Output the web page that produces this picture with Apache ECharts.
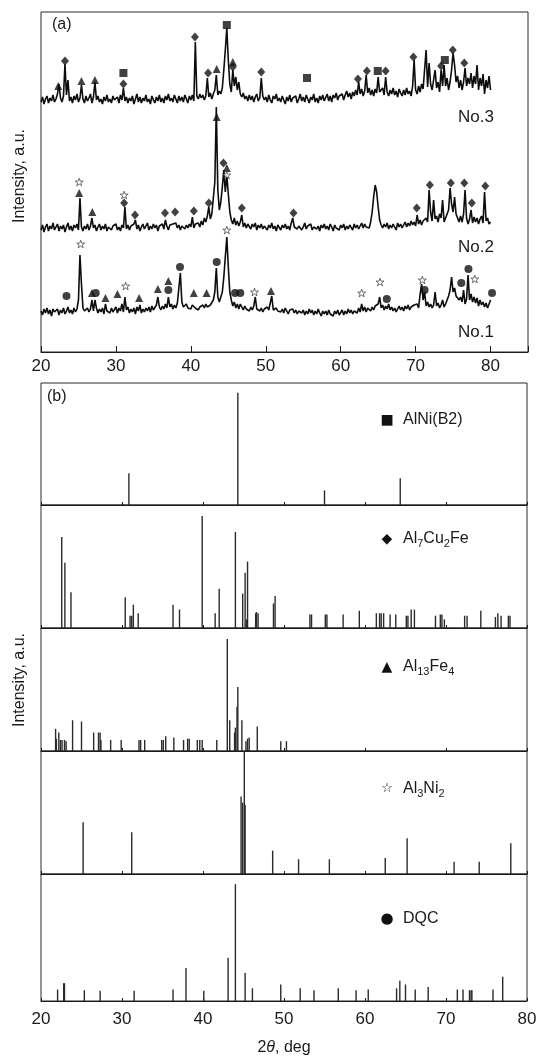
<!DOCTYPE html>
<html>
<head>
  <meta charset="utf-8">
  <title>XRD</title>
  <script src="https://cdn.jsdelivr.net/npm/echarts/dist/echarts.min.js"></script>
  <style>
    html, body { margin: 0; padding: 0; background: #fff; }
    #main { width: 543px; height: 1058px; }
  </style>
</head>
<body>
<div id="main"></div>
<script>
  // (a) measured patterns, one value every 0.2 deg from 20 to 80
  const scanStart = 20;
  const scanStep = 0.2;

  const no3 = [
    250,255,248,253,256,249,254,251,257,250,
    253,258,268,254,250,256,288,257,272,251,
    255,249,256,252,258,250,254,267,253,249,
    256,251,254,258,249,255,270,252,256,250,
    253,248,255,251,257,250,253,249,256,252,
    250,255,249,257,252,264,251,255,249,254,
    251,256,248,253,258,250,255,249,254,251,
    257,250,253,248,256,252,249,255,251,257,
    250,254,249,256,252,258,251,254,250,257,
    253,249,256,251,255,250,257,253,249,256,
    252,257,251,310,256,253,258,254,257,252,
    256,274,255,259,253,258,262,277,257,261,
    258,264,282,302,324,292,268,260,282,266,
    275,262,270,258,255,259,253,256,251,257,
    252,256,250,255,258,251,254,274,256,252,
    255,250,257,252,249,256,253,258,251,254,
    250,256,252,248,255,251,257,250,254,252,
    256,249,253,258,251,255,250,257,253,249,
    255,252,258,250,254,249,256,252,257,251,
    253,258,251,256,250,257,254,259,252,256,
    254,258,252,257,261,255,259,253,260,256,
    262,257,270,258,263,256,261,277,259,264,
    257,262,256,263,259,275,260,258,264,257,
    275,260,256,262,258,264,257,261,255,263,
    259,256,262,257,264,258,261,256,266,292,
    262,258,266,260,268,263,261,302,265,289,
    268,262,272,282,264,270,260,282,266,287,
    266,274,262,270,282,299,287,270,276,264,
    272,262,270,284,266,274,268,279,264,276,
    268,287,262,274,266,278,258,272,264,276,
    262
  ];

  const no2 = [
    122,127,120,125,128,121,126,123,129,122,
    125,128,121,126,123,127,120,125,129,122,
    126,121,127,124,128,122,154,125,121,126,
    123,128,122,126,134,124,127,121,125,128,
    122,126,123,128,121,125,127,122,126,124,
    128,122,125,121,127,124,145,123,127,122,
    126,124,128,132,123,127,121,125,128,123,
    125,129,122,126,123,128,124,127,121,126,
    124,128,123,132,126,122,127,125,128,129,
    129,124,127,122,126,128,123,127,124,128,
    125,135,124,128,126,129,125,131,127,134,
    130,136,145,133,138,140,170,245,162,142,
    150,165,182,160,177,158,140,132,128,134,
    127,131,126,130,137,125,129,124,128,126,
    123,128,125,129,122,127,124,128,123,126,
    128,122,127,124,129,123,126,121,127,125,
    122,127,124,128,123,126,122,129,134,125,
    127,123,126,128,122,125,129,123,126,124,
    128,122,125,127,123,126,121,127,124,128,
    123,126,122,128,125,121,127,124,126,122,
    127,124,128,122,126,123,127,125,122,128,
    124,127,123,126,129,124,128,125,127,124,
    130,140,155,167,160,145,132,127,124,128,
    125,129,123,127,124,128,126,122,129,125,
    128,124,127,130,125,129,126,131,127,130,
    126,137,128,132,127,131,129,134,130,162,
    140,131,152,133,136,130,138,134,152,130,
    132,138,142,164,148,140,155,138,134,130,
    136,130,138,162,134,128,133,142,129,135,
    130,134,128,133,136,129,160,131,134,128,
    130
  ];

  const no1 = [
    41,37,43,39,44,38,42,36,43,40,
    38,43,37,42,39,44,38,41,45,39,
    42,38,44,40,43,52,97,68,44,41,
    39,44,40,43,52,41,52,44,39,43,
    40,44,38,48,41,43,39,44,40,42,
    45,39,44,41,48,40,55,42,45,39,
    43,40,44,38,45,41,47,39,43,40,
    44,41,45,40,46,42,43,47,55,45,
    42,46,43,48,44,55,45,48,43,47,
    44,49,48,79,50,45,43,48,44,46,
    43,47,48,44,46,42,45,43,47,44,
    48,45,43,47,46,52,60,84,55,50,
    55,60,75,95,115,85,60,52,46,50,
    44,48,43,48,45,42,46,43,44,41,
    45,42,46,55,43,45,41,44,40,43,
    41,45,42,44,56,42,40,44,41,43,
    40,43,39,44,41,38,42,40,43,39,
    42,38,41,43,39,42,37,41,38,43,
    39,42,37,41,38,43,39,36,41,38,
    41,37,42,38,40,36,41,38,42,37,
    39,42,37,41,38,43,39,42,38,41,
    43,39,44,40,48,41,45,40,44,42,
    41,45,42,46,44,48,55,44,47,42,
    46,43,48,42,45,41,44,40,43,46,
    42,45,41,46,43,47,42,45,44,47,
    45,48,44,58,68,52,60,46,50,45,
    48,44,47,60,46,49,44,47,52,45,
    48,52,56,62,75,60,64,56,58,52,
    55,50,62,48,53,77,52,58,50,55,
    49,54,46,52,47,50,45,49,44,48,
    52
  ];

  // (a) phase markers [2theta, height]
  const markAlNi = [[31.0,279],[44.8,327],[55.5,274],[64.95,281],[73.9,292]];
  const markAl7Cu2Fe = [
    [23.2,291],[31.0,268],[40.55,315],[42.3,279],[45.6,285],[49.4,280],[62.3,273],
    [63.5,281],[66.0,281],[69.7,295],[73.4,286],[74.96,302],[76.5,289],
    [31.1,149],[32.55,137],[36.55,139],[37.9,140],[40.4,141],[42.4,149],[44.35,189],
    [46.8,144],[53.7,139],[70.15,144],[71.9,167],[74.7,169],[76.5,169],[77.5,149],[79.3,166]
  ];
  const markAl13Fe4 = [
    [22.3,266],[25.4,271],[27.2,272],[43.45,283],[45.6,290],
    [25.1,159],[26.85,140],[43.45,235],[44.8,184],
    [26.8,59],[28.6,54],[30.2,58],[33.1,54],[35.6,63],[37.0,71],[40.4,59],[42.1,59],[50.7,61]
  ];
  const markAl3Ni2 = [
    [25.1,170],[31.1,157],[44.8,177],
    [25.3,108],[31.3,66],[44.8,122],[48.5,60],[62.8,59],[65.25,70],[70.9,72],[77.9,73]
  ];
  const markDQC = [
    [23.4,56],[27.3,59],[37.0,62],[38.55,85],[43.45,90],[45.9,59],[46.6,59],
    [66.15,53],[71.2,62],[76.1,69],[77.05,83],[80.2,59]
  ];

  // (b) reference patterns [2theta, relative intensity]
  const refAlNi = [[30.85,26],[44.3,92],[55.0,12],[64.35,22]];
  const refAl7Cu2Fe = [
    [22.56,74],[22.95,53],[23.7,29],[30.4,25],[31.0,10],[31.2,10],[31.4,19],[32.0,12],
    [36.3,19],[37.1,15],[39.9,91],[41.5,12],[42.0,32],[44.0,78],[44.9,28],[45.2,45],
    [45.35,7],[45.5,54],[46.5,12],[46.6,13],[46.8,12],[48.7,20],[48.9,26],[53.2,11],
    [53.4,11],[55.1,11],[55.3,11],[57.3,11],[59.3,14],[61.4,12],[61.8,12],[62.0,12],
    [62.3,12],[63.1,11],[63.8,11],[65.1,10],[65.3,10],[65.7,15],[66.1,15],[68.7,10],
    [69.3,11],[69.5,11],[69.8,7],[72.3,10],[72.6,10],[74.3,14],[76.1,9],[76.4,12],
    [76.8,10],[77.7,10],[77.9,10]
  ];
  const refAl13Fe4 = [
    [21.8,18],[21.9,10],[22.2,15],[22.4,9],[22.6,9],[22.9,9],[23.1,8],[23.9,25],[25.0,24],
    [26.5,15],[27.1,15],[27.3,15],[27.4,9],[28.6,9],[29.9,9],[32.1,9],[32.3,9],[32.8,9],
    [34.9,9],[35.1,9],[35.4,12],[36.4,11],[37.6,9],[38.1,10],[38.3,10],[39.3,9],[39.6,9],
    [39.9,9],[41.7,9],[43.0,91],[43.3,25],[43.9,15],[44.0,19],[44.2,36],[44.3,52],
    [44.8,25],[45.3,8],[45.5,10],[45.7,11],[46.7,20],[49.6,8],[50.3,8]
  ];
  const refAl3Ni2 = [
    [25.2,42],[31.2,34],[44.7,63],[44.9,58],[45.1,100],[45.2,56],[48.6,19],[51.8,12],
    [55.6,12],[62.5,13],[65.2,29],[71.0,10],[74.1,10],[78.0,25]
  ];
  const refDQC = [
    [22.05,9],[22.8,14],[22.9,14],[25.35,8.5],[27.3,8],[31.5,8],[36.3,9],[37.9,26],
    [40.1,8],[43.1,34],[44.0,92],[45.2,22],[46.1,10],[49.6,13],[52.0,10],[53.7,8.5],
    [56.7,10],[58.9,8.5],[60.4,9],[63.9,10],[64.3,16],[65.0,13],[66.2,9],[67.8,11],
    [71.4,9],[72.1,9],[72.9,8.5],[73.1,8.5],[73.2,8.5],[75.8,9],[77.0,19]
  ];

  const FONT = 'Arial, "Liberation Sans", sans-serif';
  const INK = '#1a1a1a';
  const STAR = 'path://M12,1 L14.6,8.6 L22.5,8.6 L16.2,13.4 L18.6,21 L12,16.4 L5.4,21 L7.8,13.4 L1.5,8.6 L9.4,8.6 Z';

  function toPairs(values) {
    return values.map(function (v, i) {
      return [+(scanStart + i * scanStep).toFixed(2), v];
    });
  }

  function stickItem(params, api) {
    const top = api.coord([api.value(0), api.value(1)]);
    const base = api.coord([api.value(0), 0]);
    return {
      type: 'line',
      shape: { x1: base[0], y1: base[1], x2: top[0], y2: top[1] },
      style: { stroke: '#2b2b2b', lineWidth: 1.4 }
    };
  }

  // panel layout
  const subTops = [383, 505, 628, 751, 874];
  const subHeights = [122, 123, 123, 123, 127];

  const grids = [{ left: 41, right: 15, top: 12, height: 340 }];
  subTops.forEach(function (t, k) {
    grids.push({ left: 41, right: 16, top: t, height: subHeights[k] });
  });
  grids.forEach(function (g) {
    g.show = true;
    g.borderColor = '#2a2a2a';
    g.borderWidth = 1;
  });

  const xAxes = [{
    gridIndex: 0, type: 'value', min: 20, max: 85, interval: 10,
    axisLine: { lineStyle: { color: INK } },
    axisTick: { inside: true, length: 6, lineStyle: { color: INK } },
    axisLabel: {
      fontSize: 17, color: INK, margin: 6, fontFamily: FONT,
      formatter: function (v) { return v > 80 ? '' : v; }
    },
    splitLine: { show: false }
  }];
  const yAxes = [{ gridIndex: 0, type: 'value', min: 0, max: 340, show: false }];
  for (let k = 1; k <= 5; k++) {
    xAxes.push({
      gridIndex: k, type: 'value', min: 20, max: 80, interval: 10,
      axisLine: { lineStyle: { color: INK } },
      axisTick: { inside: true, length: 3, lineStyle: { color: INK } },
      axisLabel: {
        show: k === 5, fontSize: 17, color: INK, margin: 10, fontFamily: FONT
      },
      splitLine: { show: false }
    });
    yAxes.push({ gridIndex: k, type: 'value', min: 0, max: 100, show: false });
  }

  function traceSeries(values) {
    return {
      type: 'line', xAxisIndex: 0, yAxisIndex: 0,
      data: toPairs(values), showSymbol: false, silent: true,
      lineStyle: { color: '#0d0d0d', width: 1.6 }, z: 2
    };
  }

  function markSeries(data, symbol, size, hollow) {
    return {
      type: 'scatter', xAxisIndex: 0, yAxisIndex: 0, data: data,
      symbol: symbol, symbolSize: size, symbolKeepAspect: true, z: 5,
      itemStyle: hollow
        ? { color: '#fff', borderColor: '#222', borderWidth: 0.8 }
        : { color: '#111' }
    };
  }

  function stickSeries(data, k) {
    return {
      type: 'custom', xAxisIndex: k, yAxisIndex: k, data: data,
      renderItem: stickItem, silent: true
    };
  }

  const sub = { fontSize: 11, fontFamily: FONT, fill: INK, lineHeight: 12, verticalAlign: 'bottom' };
  const nor = { fontSize: 16, fontFamily: FONT, fill: INK, lineHeight: 20 };

  function legendItem(symbolChar, symbolSize, label, y) {
    return [
      {
        type: 'text', x: 387, y: y,
        style: {
          text: symbolChar, font: symbolSize + 'px "DejaVu Sans"', fill: '#111',
          align: 'center', verticalAlign: 'middle'
        }
      },
      {
        type: 'text', x: 403, y: y,
        style: {
          text: label, rich: { n: nor, s: sub },
          font: '16px ' + FONT, fill: INK, align: 'left', verticalAlign: 'middle'
        }
      }
    ];
  }

  const plainText = function (text, x, y, size, align) {
    return {
      type: 'text', x: x, y: y,
      style: {
        text: text, font: size + 'px ' + FONT, fill: INK,
        align: align || 'left', verticalAlign: 'middle'
      }
    };
  };

  const graphics = [
    plainText('(a)', 52, 25, 16),
    plainText('No.3', 494, 117, 17, 'right'),
    plainText('No.2', 494, 247, 17, 'right'),
    plainText('No.1', 494, 332, 17, 'right'),
    plainText('(b)', 47, 397, 16),
    {
      type: 'text', x: 20, y: 176, rotation: Math.PI / 2,
      style: { text: 'Intensity, a.u.', font: '16px ' + FONT, fill: INK, align: 'center', verticalAlign: 'middle' }
    },
    {
      type: 'text', x: 20, y: 680, rotation: Math.PI / 2,
      style: { text: 'Intensity, a.u.', font: '16px ' + FONT, fill: INK, align: 'center', verticalAlign: 'middle' }
    },
    {
      type: 'text', x: 284, y: 1048,
      style: {
        text: '2{i|θ}, deg', font: '16px ' + FONT, fill: INK, align: 'center', verticalAlign: 'middle',
        rich: { i: { fontSize: 16, fontFamily: FONT, fontStyle: 'italic', fill: INK } }
      }
    }
  ].concat(
    legendItem('■', 14, '{n|AlNi(B2)}', 420),
    legendItem('◆', 14, '{n|Al}{s|7}{n|Cu}{s|2}{n|Fe}', 539),
    legendItem('▲', 14, '{n|Al}{s|13}{n|Fe}{s|4}', 667),
    legendItem('☆', 13, '{n|Al}{s|3}{n|Ni}{s|2}', 789),
    legendItem('●', 15, '{n|DQC}', 919)
  );

  const myChart = echarts.init(document.getElementById('main'));

  const option = {
    animation: false,
    backgroundColor: '#fff',
    grid: grids,
    xAxis: xAxes,
    yAxis: yAxes,
    graphic: graphics,
    series: [
      traceSeries(no3),
      traceSeries(no2),
      traceSeries(no1),
      markSeries(markAlNi, 'rect', 8),
      markSeries(markAl7Cu2Fe, 'diamond', [8, 9]),
      markSeries(markAl13Fe4, 'triangle', 8),
      markSeries(markAl3Ni2, STAR, 8, true),
      markSeries(markDQC, 'circle', 8),
      stickSeries(refAlNi, 1),
      stickSeries(refAl7Cu2Fe, 2),
      stickSeries(refAl13Fe4, 3),
      stickSeries(refAl3Ni2, 4),
      stickSeries(refDQC, 5)
    ]
  };

  myChart.setOption(option);
</script>
</body>
</html>
